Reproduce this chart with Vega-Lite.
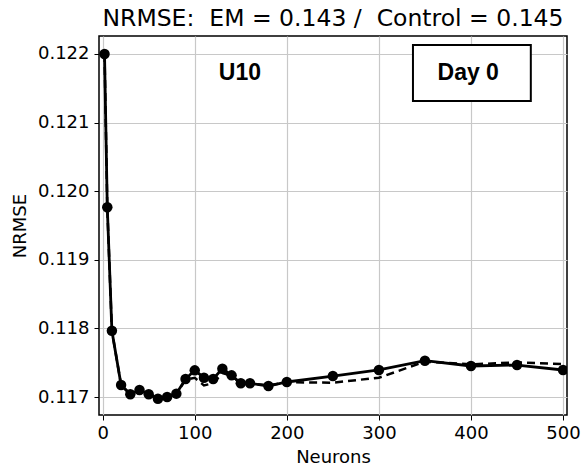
{
  "$schema": "https://vega.github.io/schema/vega-lite/v6.json",
  "width": 468,
  "height": 379,
  "autosize": "none",
  "padding": {"left": 99, "top": 36, "right": 14, "bottom": 53},
  "background": "white",
  "title": {
    "text": "NRMSE:\u00a0 EM = 0.143 /\u00a0 Control = 0.145",
    "font": "DejaVu Sans",
    "fontSize": 23.5,
    "fontWeight": "normal",
    "color": "black",
    "anchor": "middle",
    "offset": 6
  },
  "config": {
    "view": {"stroke": "black", "strokeWidth": 1.5},
    "axis": {
      "domain": false,
      "grid": true,
      "gridColor": "#c8c8c8",
      "gridWidth": 1.2,
      "tickColor": "black",
      "tickSize": 5,
      "tickWidth": 1,
      "labelFont": "DejaVu Sans",
      "labelFontSize": 18,
      "labelColor": "black",
      "titleFont": "DejaVu Sans",
      "titleFontSize": 18,
      "titleFontWeight": "normal",
      "titleColor": "black"
    }
  },
  "datasets": {
    "series": [
      {"neurons": 2, "nrmse": 0.122, "model": "EM"},
      {"neurons": 5, "nrmse": 0.119765, "model": "EM"},
      {"neurons": 10, "nrmse": 0.117966, "model": "EM"},
      {"neurons": 20, "nrmse": 0.117175, "model": "EM"},
      {"neurons": 30, "nrmse": 0.11704, "model": "EM"},
      {"neurons": 40, "nrmse": 0.117102, "model": "EM"},
      {"neurons": 50, "nrmse": 0.11704, "model": "EM"},
      {"neurons": 60, "nrmse": 0.116976, "model": "EM"},
      {"neurons": 70, "nrmse": 0.117, "model": "EM"},
      {"neurons": 80, "nrmse": 0.117049, "model": "EM"},
      {"neurons": 90, "nrmse": 0.117262, "model": "EM"},
      {"neurons": 100, "nrmse": 0.117389, "model": "EM"},
      {"neurons": 110, "nrmse": 0.117282, "model": "EM"},
      {"neurons": 120, "nrmse": 0.117262, "model": "EM"},
      {"neurons": 130, "nrmse": 0.117413, "model": "EM"},
      {"neurons": 140, "nrmse": 0.117316, "model": "EM"},
      {"neurons": 150, "nrmse": 0.1172, "model": "EM"},
      {"neurons": 160, "nrmse": 0.1172, "model": "EM"},
      {"neurons": 180, "nrmse": 0.11716, "model": "EM"},
      {"neurons": 200, "nrmse": 0.117219, "model": "EM"},
      {"neurons": 250, "nrmse": 0.117306, "model": "EM"},
      {"neurons": 300, "nrmse": 0.117394, "model": "EM"},
      {"neurons": 350, "nrmse": 0.117529, "model": "EM"},
      {"neurons": 400, "nrmse": 0.117452, "model": "EM"},
      {"neurons": 450, "nrmse": 0.117466, "model": "EM"},
      {"neurons": 500, "nrmse": 0.117394, "model": "EM"},
      {"neurons": 2, "nrmse": 0.122, "model": "Control"},
      {"neurons": 5, "nrmse": 0.119765, "model": "Control"},
      {"neurons": 10, "nrmse": 0.117966, "model": "Control"},
      {"neurons": 20, "nrmse": 0.117175, "model": "Control"},
      {"neurons": 30, "nrmse": 0.11704, "model": "Control"},
      {"neurons": 40, "nrmse": 0.117102, "model": "Control"},
      {"neurons": 50, "nrmse": 0.11704, "model": "Control"},
      {"neurons": 60, "nrmse": 0.116976, "model": "Control"},
      {"neurons": 70, "nrmse": 0.117, "model": "Control"},
      {"neurons": 80, "nrmse": 0.117049, "model": "Control"},
      {"neurons": 90, "nrmse": 0.11725, "model": "Control"},
      {"neurons": 100, "nrmse": 0.11728, "model": "Control"},
      {"neurons": 110, "nrmse": 0.11717, "model": "Control"},
      {"neurons": 120, "nrmse": 0.1172, "model": "Control"},
      {"neurons": 130, "nrmse": 0.11735, "model": "Control"},
      {"neurons": 140, "nrmse": 0.11731, "model": "Control"},
      {"neurons": 150, "nrmse": 0.1172, "model": "Control"},
      {"neurons": 160, "nrmse": 0.1172, "model": "Control"},
      {"neurons": 180, "nrmse": 0.11717, "model": "Control"},
      {"neurons": 200, "nrmse": 0.117215, "model": "Control"},
      {"neurons": 250, "nrmse": 0.117209, "model": "Control"},
      {"neurons": 300, "nrmse": 0.117282, "model": "Control"},
      {"neurons": 350, "nrmse": 0.117515, "model": "Control"},
      {"neurons": 400, "nrmse": 0.117476, "model": "Control"},
      {"neurons": 450, "nrmse": 0.117505, "model": "Control"},
      {"neurons": 500, "nrmse": 0.117481, "model": "Control"}
    ],
    "labels": [
      {"x": 149, "y": 0.121723, "text": "U10"},
      {"x": 397, "y": 0.121723, "text": "Day 0"}
    ],
    "box": [
      {"x": 337, "x2": 465, "y": 0.122131, "y2": 0.121315}
    ]
  },
  "layer": [
    {
      "data": {"name": "series"},
      "transform": [{"filter": "datum.model === 'Control'"}],
      "mark": {"type": "line", "color": "black", "strokeWidth": 2.5, "strokeDash": [8, 5], "clip": true},
      "encoding": {
        "x": {
          "field": "neurons", "type": "quantitative",
          "scale": {"domain": [-4, 504.3], "nice": false, "zero": false},
          "axis": {"values": [0, 100, 200, 300, 400, 500], "title": "Neurons", "labelPadding": 4, "titlePadding": 6}
        },
        "y": {
          "field": "nrmse", "type": "quantitative",
          "scale": {"domain": [0.116738, 0.122262], "nice": false, "zero": false},
          "axis": {"values": [0.117, 0.118, 0.119, 0.12, 0.121, 0.122], "format": ".3f", "title": "NRMSE", "labelPadding": 5, "titlePadding": 8}
        }
      }
    },
    {
      "data": {"name": "series"},
      "transform": [{"filter": "datum.model === 'EM'"}],
      "mark": {"type": "line", "color": "black", "strokeWidth": 2.8, "point": {"filled": true, "color": "black", "size": 110, "opacity": 1}, "clip": true},
      "encoding": {
        "x": {"field": "neurons", "type": "quantitative"},
        "y": {"field": "nrmse", "type": "quantitative"}
      }
    },
    {
      "data": {"name": "box"},
      "mark": {"type": "rect", "fill": "white", "stroke": "black", "strokeWidth": 2},
      "encoding": {
        "x": {"field": "x", "type": "quantitative"},
        "x2": {"field": "x2"},
        "y": {"field": "y", "type": "quantitative"},
        "y2": {"field": "y2"}
      }
    },
    {
      "data": {"name": "labels"},
      "mark": {"type": "text", "font": "Liberation Sans", "fontWeight": "bold", "fontSize": 23, "color": "black", "align": "center", "baseline": "middle"},
      "encoding": {
        "x": {"field": "x", "type": "quantitative"},
        "y": {"field": "y", "type": "quantitative"},
        "text": {"field": "text"}
      }
    }
  ]
}
